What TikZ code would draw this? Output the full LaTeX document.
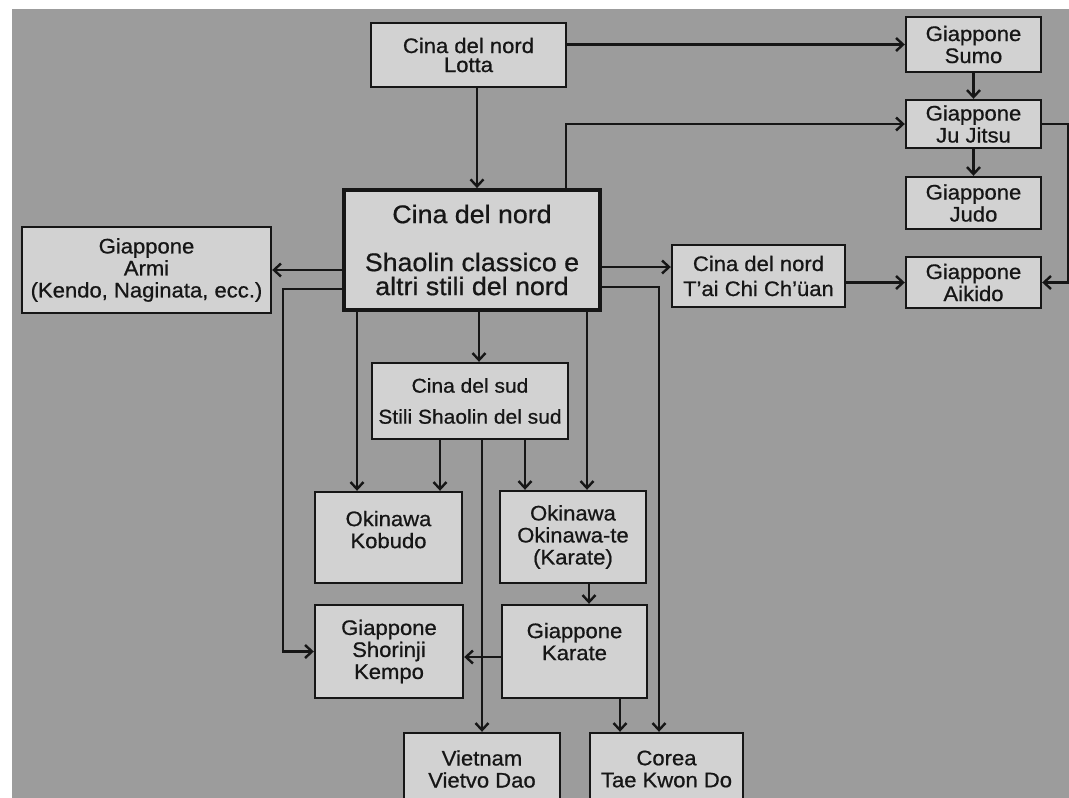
\documentclass[tikz,border=0pt]{standalone}
\usepackage{fontspec}
\setmainfont{Liberation Sans}[FakeStretch=1.05,FakeBold=0.7]
\usetikzlibrary{arrows.meta}
\definecolor{paper}{RGB}{156,156,156}
\definecolor{boxgray}{RGB}{210,210,210}
\definecolor{ink}{RGB}{22,22,22}

\begin{document}
\begin{tikzpicture}[x=1pt,y=-1pt,->,>={Straight Barb[length=7pt,width=13pt]},
  line width=2.4pt,draw=ink,
  side node/.style={rectangle,draw=ink,fill=boxgray,line width=2.4pt,align=center,
    inner sep=0pt,text=ink,font=\fontsize{21}{22}\selectfont},
  main node/.style={side node,line width=3.8pt,font=\fontsize{25.5}{24}\selectfont}]
  \useasboundingbox (0,0) rectangle (1069,798);
  \clip (0,0) rectangle (1069,798);
  \fill[paper,-] (12,9) rectangle (1069,798);

  \node[side node,minimum width=195,minimum height=64] (1) at (468.5,55) {Cina del nord\\[-3pt]Lotta};
  \node[main node,minimum width=256,minimum height=120] (2) at (472,250) {Cina del nord\\[24pt]Shaolin classico e\\altri stili del nord};
  \node[side node,minimum width=249,minimum height=86] (3) at (146.5,270) {Giappone\\Armi\\(Kendo, Naginata, ecc.)};
  \node[side node,minimum width=135,minimum height=55] (4) at (973.5,44.5) {Giappone\\Sumo};
  \node[side node,minimum width=135,minimum height=48] (5) at (973.5,124) {Giappone\\Ju Jitsu};
  \node[side node,minimum width=135,minimum height=52] (6) at (973.5,203) {Giappone\\Judo};
  \node[side node,minimum width=135,minimum height=51] (7) at (973.5,282.5) {Giappone\\Aikido};
  \node[side node,minimum width=173,minimum height=62] (8) at (758.5,276) {Cina del nord\\[3pt]T'ai Chi Ch'üan};
  \node[side node,minimum width=196,minimum height=76,font=\fontsize{20}{22}\selectfont] (9) at (470,401) {Cina del sud\\[9pt]Stili Shaolin del sud};
  \node[side node,minimum width=147,minimum height=91] (10) at (388.5,537.5) {Okinawa\\Kobudo\\[-6pt]\mbox{}};
  \node[side node,minimum width=146,minimum height=92] (11) at (573,537) {Okinawa\\Okinawa-te\\(Karate)};
  \node[side node,minimum width=148,minimum height=93] (12) at (389,651.5) {Giappone\\Shorinji\\Kempo};
  \node[side node,minimum width=145,minimum height=93] (13) at (574.5,651.5) {Giappone\\Karate\\[-2pt]\mbox{}};
  \node[side node,minimum width=156,minimum height=72] (14) at (482,769) {Vietnam\\Vietvo Dao};
  \node[side node,minimum width=153,minimum height=72] (15) at (666.5,769) {Corea\\Tae Kwon Do};

  \path
    (4) edge (5)
    (5) edge (6)
    (1.east |- 4.west) edge (4.west)
    (8.east |- 7.west) edge (7.west)
    (2.west |- 3.east) edge (3.east)
    (9.south -| 14.north) edge (14.north)
    ([xshift=8.5pt]1.south) edge ([xshift=8.5pt]1.south |- 2.north)
    ([yshift=-17pt]2.east) edge ([yshift=-17pt]2.east -| 8.west)
    ([xshift=-115pt]2.south) edge ([xshift=-115pt]2.south |- 10.north)
    ([xshift=7pt]2.south) edge ([xshift=7pt]2.south |- 9.north)
    ([xshift=115pt]2.south) edge ([xshift=115pt]2.south |- 11.north)
    ([xshift=-30pt]9.south) edge ([xshift=-30pt]9.south |- 10.north)
    ([xshift=55pt]9.south) edge ([xshift=55pt]9.south |- 11.north)
    ([xshift=16pt]11.south) edge ([xshift=16pt]11.south |- 13.north)
    ([yshift=-5.5pt]13.west) edge ([yshift=-5.5pt]13.west -| 12.east)
    ([xshift=45.5pt]13.south) edge ([xshift=45.5pt]13.south |- 15.north);

  \draw ([xshift=94pt]2.north) |- (5.west);
  \draw (5.east) -- ++(26,0) |- (7.east);
  \draw ([yshift=-39pt]2.west) -- ++(-59,0) |- (12.west);
  \draw ([yshift=-37pt]2.east) -| ([xshift=-7.5pt]15.north);
\end{tikzpicture}
\end{document}
